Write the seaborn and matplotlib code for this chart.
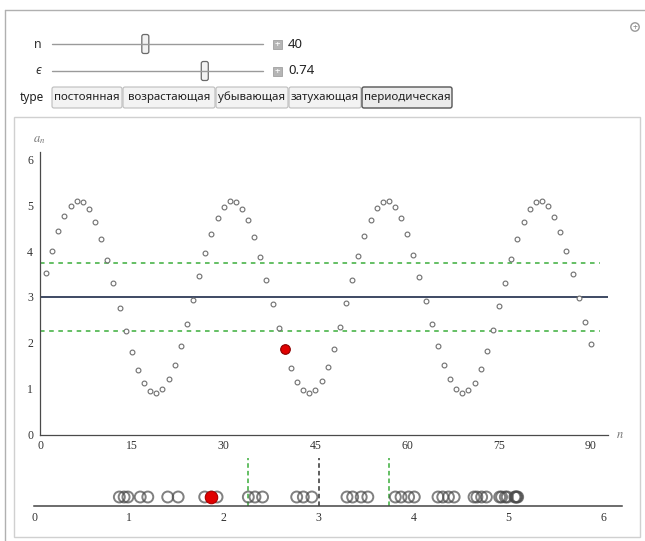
import numpy as np
import pandas as pd
import seaborn as sns
import matplotlib.pyplot as plt
from matplotlib.patches import Rectangle, FancyBboxPatch, Circle
from matplotlib.ticker import MultipleLocator

# ---- data ----
n_current = 40
eps = 0.74
a_limit = 3.0
a_values = [
    3.52, 4.01, 4.43, 4.77, 4.99, 5.10, 5.07, 4.91, 4.64, 4.26,
    3.81, 3.30, 2.77, 2.26, 1.80, 1.41, 1.12, 0.95, 0.90, 0.99,
    1.20, 1.52, 1.93, 2.41, 2.93, 3.45, 3.95, 4.37, 4.72, 4.97,
    5.09, 5.08, 4.93, 4.67, 4.31, 3.87, 3.36, 2.84, 2.33, 1.87,
    1.46, 1.15, 0.96, 0.90, 0.98, 1.17, 1.47, 1.87, 2.35, 2.86,
    3.38, 3.89, 4.33, 4.69, 4.94, 5.08, 5.09, 4.97, 4.72, 4.37,
    3.92, 3.44, 2.91, 2.40, 1.92, 1.51, 1.20, 0.99, 0.91, 0.96,
    1.13, 1.43, 1.82, 2.29, 2.80, 3.31, 3.82, 4.27, 4.64, 4.92,
    5.08, 5.09, 4.99, 4.75, 4.41, 4.00, 3.50, 2.98, 2.46, 1.97,
]
n_values = list(range(1, len(a_values) + 1))
x_ticks = [0, 15, 30, 45, 60, 75, 90]
y_ticks = [0, 1, 2, 3, 4, 5, 6]
strip_ticks = [0, 1, 2, 3, 4, 5, 6]
type_buttons = ["постоянная", "возрастающая", "убывающая", "затухающая", "периодическая"]
selected_type = "периодическая"
n_slider = (1, 90)
eps_slider = (0.0, 1.0)

df = pd.DataFrame({"n": n_values, "a": a_values})
df_first = df[df["n"] <= n_current]
cur = df[df["n"] == n_current]

sns.set_style("white")
plt.rcParams["font.family"] = ["Liberation Serif", "DejaVu Serif"]
plt.rcParams["mathtext.fontset"] = "stix"
UI = ["Noto Sans", "DejaVu Sans"]

W, H = 645, 541
fig = plt.figure(figsize=(W / 100, H / 100), dpi=100)

# ---- background / controls (pixel coordinates) ----
bg = fig.add_axes([0, 0, 1, 1], zorder=-1)
bg.set_xlim(0, W)
bg.set_ylim(H, 0)
bg.axis("off")
bg.plot([5, W], [10, 10], color="#b0b0b0", lw=1)
bg.plot([5, 5], [10, H], color="#b0b0b0", lw=1)
bg.add_patch(Rectangle((14, 117), 626, 420, facecolor="white", edgecolor="#d0d0d0", lw=1))
bg.add_patch(Circle((635, 27), 4.2, facecolor="white", edgecolor="#999999", lw=1))
bg.text(635, 27.5, "+", ha="center", va="center", fontsize=6, color="#888888", family=UI)

def slider(y, label, val, rng, txt, style="normal"):
    x0, x1 = 52, 263
    bg.plot([x0, x1], [y, y], color="#9a9a9a", lw=1)
    bg.text(38, y, label, ha="center", va="center", fontsize=9, color="#333333",
            family=UI, style=style)
    tx = x0 + 7 + (val - rng[0]) / (rng[1] - rng[0]) * (x1 - x0 - 14)
    bg.add_patch(FancyBboxPatch((tx - 3.5, y - 9.5), 7, 19, boxstyle="round,pad=0,rounding_size=2",
                                facecolor="#f2f2f2", edgecolor="#6a6a6a", lw=0.9))
    bg.add_patch(Rectangle((273, y - 4.5), 9, 9, facecolor="#b5b5b5", edgecolor="#a0a0a0", lw=0.6))
    bg.text(277.5, y + 0.3, "+", ha="center", va="center", fontsize=7, color="white",
            fontweight="bold", family=UI)
    bg.text(288, y, txt, ha="left", va="center", fontsize=9.5, color="#222222", family=UI)

slider(44, "n", n_current, n_slider, str(n_current))
slider(71, "ϵ", eps, eps_slider, f"{eps:.2f}", style="italic")

bg.text(32, 97.5, "type", ha="center", va="center", fontsize=8.5, color="#222222", family=UI)
edges = [52, 123, 216, 289, 362, 453]
for i, name in enumerate(type_buttons):
    sel = name == selected_type
    bg.add_patch(FancyBboxPatch((edges[i], 87), edges[i + 1] - edges[i] - 1, 21,
                                boxstyle="round,pad=0,rounding_size=2",
                                facecolor="#ebebeb" if sel else "#f3f3f3",
                                edgecolor="#555555" if sel else "#bdbdbd", lw=1 if sel else 0.8))
    bg.text((edges[i] + edges[i + 1] - 1) / 2, 97.5, name, ha="center", va="center",
            fontsize=8.3, color="#222222", family=UI)

# ---- main sequence plot ----
ax = fig.add_axes([40 / W, 1 - 434.5 / H, 568 / W, (434.5 - 151.7) / H], facecolor="none")
ax.axhline(a_limit, color="#2f3b57", lw=1.3, zorder=1)
for v in (a_limit - eps, a_limit + eps):
    ax.plot([0, 91.5], [v, v], color="#3aae3a", lw=1.1, ls=(0, (3, 3)), zorder=1)
sns.scatterplot(data=df, x="n", y="a", ax=ax, s=12, color="white", edgecolor="#6e6e6e",
                linewidth=0.8, zorder=3, legend=False)
sns.scatterplot(data=cur, x="n", y="a", ax=ax, s=48, color="#e00000", edgecolor="#8a0000",
                linewidth=0.8, zorder=4, legend=False)
ax.set_xlim(0, 92.8)
ax.set_ylim(0, 6.17)
ax.set_xlabel("")
ax.set_ylabel("")
for s in ("top", "right"):
    ax.spines[s].set_visible(False)
for s in ("left", "bottom"):
    ax.spines[s].set_color("#4a4a4a")
    ax.spines[s].set_linewidth(0.9)
ax.set_xticks(x_ticks)
ax.set_yticks(y_ticks)
ax.xaxis.set_minor_locator(MultipleLocator(1))
ax.yaxis.set_minor_locator(MultipleLocator(0.2))
ax.tick_params(axis="x", which="major", direction="in", length=7.5, width=0.8, color="#4a4a4a",
               labelsize=8.5, labelcolor="#333333", pad=4)
ax.tick_params(axis="x", which="minor", direction="in", length=3.3, width=0.7, color="#4a4a4a")
ax.tick_params(axis="y", which="major", direction="in", length=3, width=0.8, color="#4a4a4a",
               labelsize=8.5, labelcolor="#333333", pad=5)
ax.tick_params(axis="y", which="minor", direction="in", length=1.6, width=0.6, color="#4a4a4a")
bg.text(39, 140, "$a_n$", ha="center", va="center", fontsize=9, color="#777777")
bg.text(620, 435, "$n$", ha="center", va="center", fontsize=9, color="#777777")

# ---- number line strip ----
ax2 = fig.add_axes([34 / W, 1 - 506 / H, 588 / W, 50 / H], facecolor="none")
for v, c in ((a_limit - eps, "#3aae3a"), (a_limit, "#333333"), (a_limit + eps, "#3aae3a")):
    ax2.plot([v, v], [0, 0.96], color=c, lw=1.1, ls=(0, (3, 2)), zorder=1)
strip_y = np.full(len(df_first), 0.18)
sns.scatterplot(x=df_first["a"], y=strip_y, ax=ax2, s=62, facecolor="none", edgecolor="#4a4a4a",
                linewidth=1.4, alpha=0.7, zorder=3, legend=False)
sns.scatterplot(x=cur["a"], y=[0.18], ax=ax2, s=80, color="#e00000", edgecolor="#b00000",
                linewidth=0.8, zorder=4, legend=False)
ax2.set_xlim(0, 6.2)
ax2.set_ylim(0, 1)
ax2.set_xlabel("")
ax2.set_ylabel("")
for s in ("top", "right", "left"):
    ax2.spines[s].set_visible(False)
ax2.spines["bottom"].set_color("#444444")
ax2.spines["bottom"].set_linewidth(1.1)
ax2.set_yticks([])
ax2.set_xticks(strip_ticks)
ax2.xaxis.set_minor_locator(MultipleLocator(0.2))
ax2.tick_params(axis="x", which="major", direction="in", length=3.5, width=0.8, color="#444444",
                labelsize=8.5, labelcolor="#333333", pad=4)
ax2.tick_params(axis="x", which="minor", direction="in", length=2, width=0.7, color="#444444")

fig.savefig("out.png", dpi=100)
